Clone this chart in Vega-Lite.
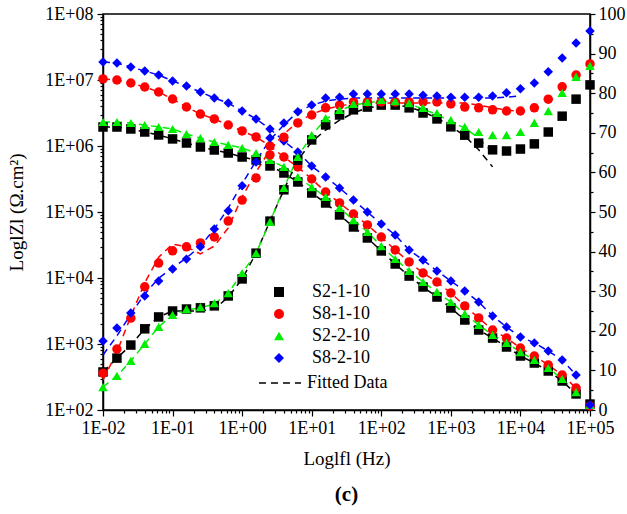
{
"$schema": "https://vega.github.io/schema/vega-lite/v6.json",
"autosize": {"type": "none"},
"width": 487, "height": 396,
"padding": {"left": 103, "top": 14, "right": 37, "bottom": 104},
"background": "white",
"config": {
  "font": "Liberation Serif",
  "view": {"stroke": "black", "strokeWidth": 1.5},
  "axis": {"labelFont": "Liberation Serif", "titleFont": "Liberation Serif", "labelFontSize": 18, "titleFontSize": 19, "titleFontWeight": "normal", "labelColor": "black", "titleColor": "black", "domainColor": "black", "tickColor": "black", "grid": false, "domainWidth": 1.5, "tickWidth": 1.2, "labelOverlap": false, "labelFlush": false},
  "legend": {"title": null, "labelFontSize": 18, "labelFont": "Liberation Serif", "labelColor": "black", "padding": 0}
},
"title": {"text": "(c)", "orient": "bottom", "anchor": "middle", "fontSize": 21, "fontWeight": "bold", "font": "Liberation Serif", "color": "black", "offset": 16},
"datasets": {
"d": [
{"s":"S2-1-10","f":0.01,"z":1.94e6,"p":9.6},{"s":"S2-1-10","f":0.01585,"z":1.94e6,"p":13.1},{"s":"S2-1-10","f":0.02512,"z":1.81e6,"p":16.4},{"s":"S2-1-10","f":0.03981,"z":1.63e6,"p":20.5},{"s":"S2-1-10","f":0.0631,"z":1.47e6,"p":23.5},{"s":"S2-1-10","f":0.1,"z":1.28e6,"p":25.0},{"s":"S2-1-10","f":0.1585,"z":1.11e6,"p":25.5},{"s":"S2-1-10","f":0.2512,"z":9.66e5,"p":25.8},{"s":"S2-1-10","f":0.3981,"z":8.7e5,"p":26.3},{"s":"S2-1-10","f":0.631,"z":7.83e5,"p":28.8},{"s":"S2-1-10","f":1,"z":6.81e5,"p":33.1},{"s":"S2-1-10","f":1.585,"z":6.14e5,"p":39.6},{"s":"S2-1-10","f":2.512,"z":4.98e5,"p":47.7},{"s":"S2-1-10","f":3.981,"z":3.9e5,"p":55.6},{"s":"S2-1-10","f":6.31,"z":2.85e5,"p":63.1},{"s":"S2-1-10","f":10,"z":1.94e5,"p":68.2},{"s":"S2-1-10","f":15.85,"z":1.37e5,"p":72.0},{"s":"S2-1-10","f":25.12,"z":9.01e4,"p":74.5},{"s":"S2-1-10","f":39.81,"z":5.93e4,"p":75.8},{"s":"S2-1-10","f":63.1,"z":4.04e4,"p":76.5},{"s":"S2-1-10","f":100,"z":2.57e4,"p":77.0},{"s":"S2-1-10","f":158.5,"z":1.63e4,"p":77.0},{"s":"S2-1-10","f":251.2,"z":1.07e4,"p":76.3},{"s":"S2-1-10","f":398.1,"z":7310,"p":75.0},{"s":"S2-1-10","f":631,"z":5150,"p":73.5},{"s":"S2-1-10","f":1000,"z":3510,"p":71.5},{"s":"S2-1-10","f":1585,"z":2310,"p":69.4},{"s":"S2-1-10","f":2512,"z":1630,"p":67.4},{"s":"S2-1-10","f":3981,"z":1230,"p":65.7},{"s":"S2-1-10","f":6310,"z":901,"p":65.4},{"s":"S2-1-10","f":10000,"z":658,"p":65.9},{"s":"S2-1-10","f":15850,"z":515,"p":67.2},{"s":"S2-1-10","f":25120,"z":390,"p":70.2},{"s":"S2-1-10","f":39810,"z":275,"p":74.2},{"s":"S2-1-10","f":63100,"z":175,"p":78.5},{"s":"S2-1-10","f":100000,"z":123,"p":82.1},
{"s":"S8-1-10","f":0.01,"z":1.04e7,"p":9.3},{"s":"S8-1-10","f":0.01585,"z":1.0e7,"p":15.4},{"s":"S8-1-10","f":0.02512,"z":9.01e6,"p":23.2},{"s":"S8-1-10","f":0.03981,"z":7.83e6,"p":31.1},{"s":"S8-1-10","f":0.0631,"z":6.58e6,"p":37.1},{"s":"S8-1-10","f":0.1,"z":5.15e6,"p":40.2},{"s":"S8-1-10","f":0.1585,"z":3.9e6,"p":41.2},{"s":"S8-1-10","f":0.2512,"z":3.05e6,"p":42.2},{"s":"S8-1-10","f":0.3981,"z":2.57e6,"p":43.7},{"s":"S8-1-10","f":0.631,"z":2.08e6,"p":47.7},{"s":"S8-1-10","f":1,"z":1.69e6,"p":53.0},{"s":"S8-1-10","f":1.585,"z":1.37e6,"p":58.6},{"s":"S8-1-10","f":2.512,"z":1.0e6,"p":64.4},{"s":"S8-1-10","f":3.981,"z":6.81e5,"p":68.9},{"s":"S8-1-10","f":6.31,"z":4.81e5,"p":72.5},{"s":"S8-1-10","f":10,"z":3.16e5,"p":74.5},{"s":"S8-1-10","f":15.85,"z":2.01e5,"p":76.3},{"s":"S8-1-10","f":25.12,"z":1.37e5,"p":77.0},{"s":"S8-1-10","f":39.81,"z":9.33e4,"p":77.8},{"s":"S8-1-10","f":63.1,"z":6.36e4,"p":77.8},{"s":"S8-1-10","f":100,"z":4.18e4,"p":77.8},{"s":"S8-1-10","f":158.5,"z":2.66e4,"p":77.8},{"s":"S8-1-10","f":251.2,"z":1.75e4,"p":77.8},{"s":"S8-1-10","f":398.1,"z":1.19e4,"p":77.8},{"s":"S8-1-10","f":631,"z":8700,"p":77.8},{"s":"S8-1-10","f":1000,"z":5930,"p":77.3},{"s":"S8-1-10","f":1585,"z":3770,"p":76.5},{"s":"S8-1-10","f":2512,"z":2480,"p":76.3},{"s":"S8-1-10","f":3981,"z":1630,"p":75.8},{"s":"S8-1-10","f":6310,"z":1230,"p":75.5},{"s":"S8-1-10","f":10000,"z":870,"p":75.5},{"s":"S8-1-10","f":15850,"z":658,"p":76.3},{"s":"S8-1-10","f":25120,"z":481,"p":78.5},{"s":"S8-1-10","f":39810,"z":339,"p":81.6},{"s":"S8-1-10","f":63100,"z":215,"p":84.6},{"s":"S8-1-10","f":100000,"z":115,"p":87.4},
{"s":"S2-2-10","f":0.01,"z":2.31e6,"p":5.8},{"s":"S2-2-10","f":0.01585,"z":2.31e6,"p":8.6},{"s":"S2-2-10","f":0.02512,"z":2.23e6,"p":12.4},{"s":"S2-2-10","f":0.03981,"z":2.08e6,"p":16.7},{"s":"S2-2-10","f":0.0631,"z":1.94e6,"p":21.0},{"s":"S2-2-10","f":0.1,"z":1.81e6,"p":24.0},{"s":"S2-2-10","f":0.1585,"z":1.52e6,"p":25.5},{"s":"S2-2-10","f":0.2512,"z":1.32e6,"p":26.0},{"s":"S2-2-10","f":0.3981,"z":1.15e6,"p":27.0},{"s":"S2-2-10","f":0.631,"z":1.04e6,"p":29.5},{"s":"S2-2-10","f":1,"z":9.33e5,"p":34.6},{"s":"S2-2-10","f":1.585,"z":7.83e5,"p":39.6},{"s":"S2-2-10","f":2.512,"z":6.14e5,"p":47.5},{"s":"S2-2-10","f":3.981,"z":4.81e5,"p":56.1},{"s":"S2-2-10","f":6.31,"z":3.39e5,"p":63.9},{"s":"S2-2-10","f":10,"z":2.39e5,"p":69.4},{"s":"S2-2-10","f":15.85,"z":1.69e5,"p":73.7},{"s":"S2-2-10","f":25.12,"z":1.15e5,"p":75.8},{"s":"S2-2-10","f":39.81,"z":7.56e4,"p":77.3},{"s":"S2-2-10","f":63.1,"z":4.98e4,"p":77.8},{"s":"S2-2-10","f":100,"z":3.05e4,"p":78.3},{"s":"S2-2-10","f":158.5,"z":1.94e4,"p":78.0},{"s":"S2-2-10","f":251.2,"z":1.28e4,"p":77.5},{"s":"S2-2-10","f":398.1,"z":8700,"p":76.3},{"s":"S2-2-10","f":631,"z":6140,"p":75.0},{"s":"S2-2-10","f":1000,"z":4330,"p":73.2},{"s":"S2-2-10","f":1585,"z":2850,"p":71.5},{"s":"S2-2-10","f":2512,"z":1940,"p":70.2},{"s":"S2-2-10","f":3981,"z":1370,"p":69.4},{"s":"S2-2-10","f":6310,"z":1040,"p":69.4},{"s":"S2-2-10","f":10000,"z":756,"p":70.2},{"s":"S2-2-10","f":15850,"z":572,"p":72.5},{"s":"S2-2-10","f":25120,"z":433,"p":75.5},{"s":"S2-2-10","f":39810,"z":295,"p":80.1},{"s":"S2-2-10","f":63100,"z":187,"p":84.1},{"s":"S2-2-10","f":100000,"z":119,"p":86.9},
{"s":"S8-2-10","f":0.01,"z":1.87e7,"p":17.4},{"s":"S8-2-10","f":0.01585,"z":1.81e7,"p":20.7},{"s":"S8-2-10","f":0.02512,"z":1.57e7,"p":24.5},{"s":"S8-2-10","f":0.03981,"z":1.37e7,"p":28.8},{"s":"S8-2-10","f":0.0631,"z":1.19e7,"p":32.6},{"s":"S8-2-10","f":0.1,"z":9.66e6,"p":35.6},{"s":"S8-2-10","f":0.1585,"z":8.11e6,"p":38.1},{"s":"S8-2-10","f":0.2512,"z":6.58e6,"p":41.2},{"s":"S8-2-10","f":0.3981,"z":5.34e6,"p":45.7},{"s":"S8-2-10","f":0.631,"z":4.48e6,"p":50.3},{"s":"S8-2-10","f":1,"z":3.39e6,"p":56.6},{"s":"S8-2-10","f":1.585,"z":2.57e6,"p":62.6},{"s":"S8-2-10","f":2.512,"z":1.81e6,"p":68.7},{"s":"S8-2-10","f":3.981,"z":1.19e6,"p":72.5},{"s":"S8-2-10","f":6.31,"z":8.11e5,"p":75.3},{"s":"S8-2-10","f":10,"z":4.98e5,"p":77.0},{"s":"S8-2-10","f":15.85,"z":3.39e5,"p":78.8},{"s":"S8-2-10","f":25.12,"z":2.31e5,"p":79.0},{"s":"S8-2-10","f":39.81,"z":1.52e5,"p":79.8},{"s":"S8-2-10","f":63.1,"z":1.0e5,"p":79.8},{"s":"S8-2-10","f":100,"z":6.58e4,"p":79.8},{"s":"S8-2-10","f":158.5,"z":4.48e4,"p":79.8},{"s":"S8-2-10","f":251.2,"z":2.66e4,"p":79.8},{"s":"S8-2-10","f":398.1,"z":1.87e4,"p":79.5},{"s":"S8-2-10","f":631,"z":1.28e4,"p":79.3},{"s":"S8-2-10","f":1000,"z":9010,"p":79.0},{"s":"S8-2-10","f":1585,"z":6360,"p":79.0},{"s":"S8-2-10","f":2512,"z":4330,"p":79.0},{"s":"S8-2-10","f":3981,"z":2660,"p":79.3},{"s":"S8-2-10","f":6310,"z":1810,"p":80.1},{"s":"S8-2-10","f":10000,"z":1280,"p":81.1},{"s":"S8-2-10","f":15850,"z":1040,"p":82.6},{"s":"S8-2-10","f":25120,"z":783,"p":85.4},{"s":"S8-2-10","f":39810,"z":572,"p":88.9},{"s":"S8-2-10","f":63100,"z":339,"p":92.7},{"s":"S8-2-10","f":100000,"z":119,"p":95.7}
],
"fp": [
{"s":"S2-1-10","f":0.01,"p":9.6},{"s":"S2-1-10","f":0.01585,"p":13.1},{"s":"S2-1-10","f":0.02512,"p":16.4},{"s":"S2-1-10","f":0.03981,"p":20.5},{"s":"S2-1-10","f":0.0631,"p":23.5},{"s":"S2-1-10","f":0.1,"p":25.0},{"s":"S2-1-10","f":0.1585,"p":25.0},{"s":"S2-1-10","f":0.2512,"p":25.0},{"s":"S2-1-10","f":0.3981,"p":25.5},{"s":"S2-1-10","f":0.631,"p":28.5},{"s":"S2-1-10","f":1,"p":33.1},{"s":"S2-1-10","f":1.585,"p":39.6},{"s":"S2-1-10","f":2.512,"p":47.7},{"s":"S2-1-10","f":3.981,"p":55.6},{"s":"S2-1-10","f":6.31,"p":63.1},{"s":"S2-1-10","f":10,"p":67.7},{"s":"S2-1-10","f":15.85,"p":70.7},{"s":"S2-1-10","f":25.12,"p":73.2},{"s":"S2-1-10","f":39.81,"p":75.0},{"s":"S2-1-10","f":63.1,"p":76.3},{"s":"S2-1-10","f":100,"p":76.8},{"s":"S2-1-10","f":158.5,"p":77.0},{"s":"S2-1-10","f":251.2,"p":76.5},{"s":"S2-1-10","f":398.1,"p":75.3},{"s":"S2-1-10","f":631,"p":73.7},{"s":"S2-1-10","f":1000,"p":71.7},{"s":"S2-1-10","f":1585,"p":69.2},{"s":"S2-1-10","f":2512,"p":65.7},{"s":"S2-1-10","f":3981,"p":61.4},
{"s":"S8-1-10","f":0.01,"p":7.6},{"s":"S8-1-10","f":0.01585,"p":14.6},{"s":"S8-1-10","f":0.02512,"p":23.7},{"s":"S8-1-10","f":0.03981,"p":32.1},{"s":"S8-1-10","f":0.0631,"p":38.6},{"s":"S8-1-10","f":0.1,"p":41.9},{"s":"S8-1-10","f":0.1585,"p":41.2},{"s":"S8-1-10","f":0.2512,"p":39.4},{"s":"S8-1-10","f":0.3981,"p":41.4},{"s":"S8-1-10","f":0.631,"p":46.0},{"s":"S8-1-10","f":1,"p":53.8},{"s":"S8-1-10","f":1.585,"p":60.1},{"s":"S8-1-10","f":2.512,"p":65.7},{"s":"S8-1-10","f":3.981,"p":69.7},{"s":"S8-1-10","f":6.31,"p":72.7},{"s":"S8-1-10","f":10,"p":74.7},{"s":"S8-1-10","f":15.85,"p":76.0},{"s":"S8-1-10","f":25.12,"p":76.8},{"s":"S8-1-10","f":39.81,"p":77.3},{"s":"S8-1-10","f":63.1,"p":77.5},{"s":"S8-1-10","f":100,"p":77.5},{"s":"S8-1-10","f":158.5,"p":77.5},{"s":"S8-1-10","f":251.2,"p":77.5},{"s":"S8-1-10","f":398.1,"p":77.5},{"s":"S8-1-10","f":631,"p":77.5},{"s":"S8-1-10","f":1000,"p":77.5},{"s":"S8-1-10","f":1585,"p":77.5},{"s":"S8-1-10","f":2512,"p":77.0},{"s":"S8-1-10","f":3981,"p":76.3},{"s":"S8-1-10","f":6310,"p":75.8},{"s":"S8-1-10","f":10000,"p":75.3},
{"s":"S2-2-10","f":0.01,"p":5.8},{"s":"S2-2-10","f":0.01585,"p":8.6},{"s":"S2-2-10","f":0.02512,"p":12.4},{"s":"S2-2-10","f":0.03981,"p":16.7},{"s":"S2-2-10","f":0.0631,"p":21.0},{"s":"S2-2-10","f":0.1,"p":24.0},{"s":"S2-2-10","f":0.1585,"p":25.3},{"s":"S2-2-10","f":0.2512,"p":25.8},{"s":"S2-2-10","f":0.3981,"p":26.8},{"s":"S2-2-10","f":0.631,"p":29.5},{"s":"S2-2-10","f":1,"p":34.6},{"s":"S2-2-10","f":1.585,"p":39.6},{"s":"S2-2-10","f":2.512,"p":47.5},{"s":"S2-2-10","f":3.981,"p":56.1},{"s":"S2-2-10","f":6.31,"p":63.9},{"s":"S2-2-10","f":10,"p":69.4},{"s":"S2-2-10","f":15.85,"p":73.4},{"s":"S2-2-10","f":25.12,"p":75.6},{"s":"S2-2-10","f":39.81,"p":77.0},{"s":"S2-2-10","f":63.1,"p":77.6},{"s":"S2-2-10","f":100,"p":78.0},{"s":"S2-2-10","f":158.5,"p":77.8},{"s":"S2-2-10","f":251.2,"p":77.3},{"s":"S2-2-10","f":398.1,"p":76.0},{"s":"S2-2-10","f":631,"p":74.6},{"s":"S2-2-10","f":1000,"p":72.9},{"s":"S2-2-10","f":1585,"p":71.2},{"s":"S2-2-10","f":2512,"p":68.7},{"s":"S2-2-10","f":3981,"p":64.9},
{"s":"S8-2-10","f":0.01,"p":13.9},{"s":"S8-2-10","f":0.01585,"p":18.7},{"s":"S8-2-10","f":0.02512,"p":24.2},{"s":"S8-2-10","f":0.03981,"p":29.3},{"s":"S8-2-10","f":0.0631,"p":33.3},{"s":"S8-2-10","f":0.1,"p":35.9},{"s":"S8-2-10","f":0.1585,"p":38.4},{"s":"S8-2-10","f":0.2512,"p":41.4},{"s":"S8-2-10","f":0.3981,"p":45.7},{"s":"S8-2-10","f":0.631,"p":51.0},{"s":"S8-2-10","f":1,"p":57.1},{"s":"S8-2-10","f":1.585,"p":62.9},{"s":"S8-2-10","f":2.512,"p":68.2},{"s":"S8-2-10","f":3.981,"p":72.0},{"s":"S8-2-10","f":6.31,"p":75.3},{"s":"S8-2-10","f":10,"p":77.0},{"s":"S8-2-10","f":15.85,"p":78.0},{"s":"S8-2-10","f":25.12,"p":78.5},{"s":"S8-2-10","f":39.81,"p":78.8},{"s":"S8-2-10","f":63.1,"p":78.8},{"s":"S8-2-10","f":100,"p":78.8},{"s":"S8-2-10","f":158.5,"p":78.8},{"s":"S8-2-10","f":251.2,"p":78.8},{"s":"S8-2-10","f":398.1,"p":78.8},{"s":"S8-2-10","f":631,"p":78.8},{"s":"S8-2-10","f":1000,"p":78.8},{"s":"S8-2-10","f":1585,"p":78.8},{"s":"S8-2-10","f":2512,"p":78.8},{"s":"S8-2-10","f":3981,"p":78.8},{"s":"S8-2-10","f":6310,"p":79.0},{"s":"S8-2-10","f":10000,"p":79.3}
]
},
"encoding": {
  "x": {"field": "f", "type": "quantitative", "scale": {"type": "log", "domain": [0.01, 100000], "nice": false},
    "axis": {"title": "Loglfl (Hz)", "orient": "bottom",
      "values": [1e-2,2e-2,3e-2,4e-2,5e-2,6e-2,7e-2,8e-2,9e-2,1e-1,2e-1,3e-1,4e-1,5e-1,6e-1,7e-1,8e-1,9e-1,1,2,3,4,5,6,7,8,9,10,20,30,40,50,60,70,80,90,100,200,300,400,500,600,700,800,900,1000,2000,3000,4000,5000,6000,7000,8000,9000,10000,20000,30000,40000,50000,60000,70000,80000,90000,100000],
      "labelExpr": "abs(log(datum.value)/LN10 - round(log(datum.value)/LN10)) < 0.001 ? (datum.value < 0.5 ? '1E-0' + (-round(log(datum.value)/LN10)) : '1E+0' + round(log(datum.value)/LN10)) : ''",
      "tickSize": {"condition": {"test": "abs(log(datum.value)/LN10 - round(log(datum.value)/LN10)) < 0.001", "value": 6}, "value": 3},
      "labelPadding": 3, "titlePadding": 12}}
},
"layer": [
  {
    "data": {"name": "d"},
    "transform": [{"filter": "datum.f < 90000"}],
    "mark": {"type": "line", "strokeWidth": 1.5, "strokeDash": [7, 5]},
    "encoding": {
      "y": {"field": "z", "type": "quantitative", "scale": {"type": "log", "domain": [100, 100000000], "nice": false}, "axis": null},
      "stroke": {"field": "s", "type": "nominal", "scale": {"domain": ["S8-2-10","S2-2-10","S8-1-10","S2-1-10"], "range": ["#0000ff","#00ee00","#ff0000","#000000"]}, "legend": null},
      "strokeDash": {"datum": "Fitted Data", "type": "nominal", "scale": {"domain": ["Fitted Data"], "range": [[7, 5]]},
        "legend": {"orient": "none", "legendX": 155, "legendY": 347, "symbolType": "stroke", "symbolSize": 1764, "symbolStrokeColor": "black", "symbolStrokeWidth": 1.5, "labelOffset": 5}}
    }
  },
  {
    "data": {"name": "fp"},
    "mark": {"type": "line", "strokeWidth": 1.5, "strokeDash": [7, 5]},
    "encoding": {
      "y": {"field": "p", "type": "quantitative", "scale": {"domain": [0, 100], "nice": false}, "axis": null},
      "stroke": {"field": "s", "type": "nominal", "scale": {"domain": ["S8-2-10","S2-2-10","S8-1-10","S2-1-10"], "range": ["#0000ff","#00ee00","#ff0000","#000000"]}, "legend": null},
      "strokeDash": {"datum": "Fitted Data", "type": "nominal", "scale": {"domain": ["Fitted Data"], "range": [[7, 5]]},
        "legend": {"orient": "none", "legendX": 155, "legendY": 347, "symbolType": "stroke", "symbolSize": 1764, "symbolStrokeColor": "black", "symbolStrokeWidth": 1.5, "labelOffset": 5}}
    }
  },
  {
    "data": {"name": "d"},
    "mark": {"type": "point", "filled": true, "size": 90, "opacity": 1},
    "encoding": {
      "y": {"field": "z", "type": "quantitative", "scale": {"type": "log", "domain": [100, 100000000], "nice": false},
        "axis": {"title": "LoglZl (Ω.cm²)", "orient": "left",
          "values": [1e2,2e2,3e2,4e2,5e2,6e2,7e2,8e2,9e2,1e3,2e3,3e3,4e3,5e3,6e3,7e3,8e3,9e3,1e4,2e4,3e4,4e4,5e4,6e4,7e4,8e4,9e4,1e5,2e5,3e5,4e5,5e5,6e5,7e5,8e5,9e5,1e6,2e6,3e6,4e6,5e6,6e6,7e6,8e6,9e6,1e7,2e7,3e7,4e7,5e7,6e7,7e7,8e7,9e7,1e8],
          "labelExpr": "abs(log(datum.value)/LN10 - round(log(datum.value)/LN10)) < 0.001 ? '1E+0' + round(log(datum.value)/LN10) : ''",
          "tickSize": {"condition": {"test": "abs(log(datum.value)/LN10 - round(log(datum.value)/LN10)) < 0.001", "value": 6}, "value": 3},
          "labelPadding": 4, "titlePadding": 18}},
      "color": {"field": "s", "type": "nominal", "scale": {"domain": ["S2-1-10","S8-1-10","S2-2-10","S8-2-10"], "range": ["#000000","#ff0000","#00ee00","#0000ff"]},
        "legend": {"orient": "none", "legendX": 167, "legendY": 269, "symbolSize": 100, "labelOffset": 24, "rowPadding": 4}},
      "shape": {"field": "s", "type": "nominal", "scale": {"domain": ["S2-1-10","S8-1-10","S2-2-10","S8-2-10"], "range": ["square","circle","triangle-up","diamond"]},
        "legend": {"orient": "none", "legendX": 167, "legendY": 269, "symbolSize": 100, "labelOffset": 24, "rowPadding": 4}}
    }
  },
  {
    "data": {"name": "d"},
    "mark": {"type": "point", "filled": true, "size": 90, "opacity": 1},
    "encoding": {
      "y": {"field": "p", "type": "quantitative", "scale": {"domain": [0, 100], "nice": false},
        "axis": {"title": null, "orient": "right",
          "values": [0,5,10,15,20,25,30,35,40,45,50,55,60,65,70,75,80,85,90,95,100],
          "labelExpr": "datum.value % 10 == 0 ? datum.label : ''",
          "tickSize": {"condition": {"test": "datum.value % 10 == 0", "value": 5}, "value": 3},
          "labelPadding": 3}},
      "color": {"field": "s", "type": "nominal",
        "legend": {"orient": "none", "legendX": 167, "legendY": 269, "symbolSize": 100, "labelOffset": 24, "rowPadding": 4}},
      "shape": {"field": "s", "type": "nominal",
        "legend": {"orient": "none", "legendX": 167, "legendY": 269, "symbolSize": 100, "labelOffset": 24, "rowPadding": 4}}
    }
  }
],
"resolve": {"scale": {"y": "independent"}}
}
